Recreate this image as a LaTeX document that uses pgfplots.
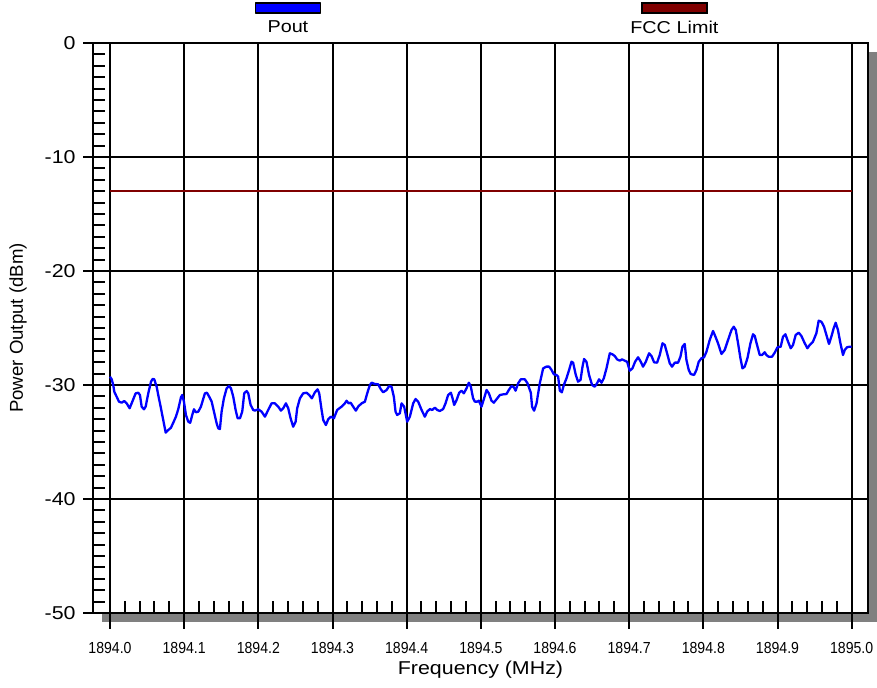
\documentclass[border=0pt]{standalone}
\usepackage{fontspec}
\usepackage{pgfplots}
\pgfplotsset{compat=1.18}
\setmainfont{Liberation Sans}
\newfontfamily\widesans[FakeStretch=1.15]{Liberation Sans}
\newfontfamily\narrowsans[FakeStretch=0.88]{Liberation Sans}
\definecolor{fccred}{HTML}{800000}
\definecolor{poutblue}{HTML}{0000FF}
\definecolor{shadowgray}{HTML}{808080}

\begin{document}
\begin{tikzpicture}
% drop shadow behind the plot frame
\fill[shadowgray] (4.5pt,-4.5pt) rectangle (392pt,280.5pt);
\begin{axis}[
  scale only axis,
  width=387.5pt, height=285pt,
  xmin=1893.9771, xmax=1895.022,
  ymin=-50, ymax=0,
  axis background/.style={fill=white},
  axis line style={black, line width=1pt},
  tick pos=left,
  tick align=inside,
  major tick length=-5pt,
  minor tick length=6pt,
  tick style={black, line width=1pt},
  xtick={1894.0,1894.1,1894.2,1894.3,1894.4,1894.5,1894.6,1894.7,1894.8,1894.9,1895.0},
  minor x tick num=4,
  extra x ticks={1894.0,1894.1,1894.2,1894.3,1894.4,1894.5,1894.6,1894.7,1894.8,1894.9,1895.0},
  extra x tick labels={},
  extra x tick style={major tick length=-8pt},
  scaled x ticks=false,
  xticklabel={\pgfmathprintnumber[fixed,fixed zerofill,precision=1,1000 sep={}]{\tick}},
  xticklabel style={font=\narrowsans\fontsize{8}{9}\selectfont, anchor=north, inner sep=0pt, yshift=-14.3pt},
  ytick={-50,-40,-30,-20,-10,0},
  minor y tick num=9,
  yticklabel style={font=\widesans\fontsize{9.3}{11}\selectfont, anchor=east, inner sep=0pt, xshift=-8.5pt},
  /pgf/number format/assume math mode=true,
  grid=major,
  major grid style={black, line width=1pt},
  every axis x label/.style={at={([yshift=-28.5pt]axis description cs:0.5,0)}, anchor=center},
  every axis y label/.style={at={([xshift=-37.5pt]axis description cs:0,0.5)}, anchor=center, rotate=90},
  xlabel={Frequency (MHz)},
  ylabel={Power Output (dBm)},
  xlabel style={font=\widesans\fontsize{9.3}{11}\selectfont},
  ylabel style={font=\fontsize{9.3}{11}\selectfont},
  legend columns=2,
  legend style={draw=none, fill=none, inner sep=0pt,
    at={(axis description cs:0.17355,1.02544)}, anchor=west,
    font=\widesans\fontsize{8.6}{10}\selectfont,
    cells={anchor=west},
    nodes={inner sep=0pt, text width=60pt, align=center},
    /tikz/every even column/.append style={column sep=133.25pt}},
]

\addplot[poutblue, line width=1.15pt, line join=round,
  legend image code/.code={\filldraw[overlay, fill=poutblue, draw=black, line width=0.6pt] (13.75pt,7.75pt) rectangle (46.25pt,12.75pt);}]
  coordinates {
(1894.0000,-29.27) (1894.0023,-29.50) (1894.0044,-30.00) (1894.0058,-30.59) (1894.0090,-31.03)
(1894.0121,-31.46) (1894.0158,-31.55) (1894.0193,-31.40) (1894.0225,-31.61) (1894.0265,-32.04)
(1894.0301,-31.46) (1894.0346,-30.73) (1894.0381,-30.68) (1894.0404,-30.88) (1894.0427,-31.90)
(1894.0458,-32.13) (1894.0481,-31.90) (1894.0516,-30.73) (1894.0553,-29.71) (1894.0575,-29.47)
(1894.0597,-29.50) (1894.0629,-30.15) (1894.0651,-30.88) (1894.0687,-32.04) (1894.0718,-33.07)
(1894.0751,-34.18) (1894.0786,-33.95) (1894.0822,-33.75) (1894.0853,-33.31) (1894.0889,-32.78)
(1894.0920,-32.13) (1894.0957,-31.08) (1894.0974,-30.88) (1894.0997,-31.46) (1894.1024,-32.63)
(1894.1055,-33.22) (1894.1082,-33.31) (1894.1109,-32.63) (1894.1132,-32.13) (1894.1159,-32.39)
(1894.1190,-32.34) (1894.1226,-31.90) (1894.1280,-30.73) (1894.1307,-30.68) (1894.1338,-31.03)
(1894.1371,-31.46) (1894.1402,-32.34) (1894.1438,-33.36) (1894.1460,-33.80) (1894.1482,-33.86)
(1894.1505,-32.34) (1894.1536,-31.17) (1894.1573,-30.29) (1894.1604,-30.09) (1894.1631,-30.29)
(1894.1662,-31.03) (1894.1694,-32.19) (1894.1721,-32.92) (1894.1752,-32.92) (1894.1783,-32.34)
(1894.1810,-30.73) (1894.1842,-30.53) (1894.1864,-30.73) (1894.1896,-31.75) (1894.1931,-32.19)
(1894.1954,-32.25) (1894.1999,-32.13) (1894.2044,-32.34) (1894.2089,-32.78) (1894.2133,-32.19)
(1894.2179,-31.61) (1894.2224,-31.61) (1894.2268,-31.90) (1894.2305,-32.25) (1894.2336,-32.04)
(1894.2372,-31.61) (1894.2403,-32.04) (1894.2435,-32.92) (1894.2470,-33.66) (1894.2503,-33.22)
(1894.2524,-32.04) (1894.2561,-31.17) (1894.2605,-30.73) (1894.2651,-30.68) (1894.2686,-30.88)
(1894.2722,-31.17) (1894.2763,-30.64) (1894.2799,-30.38) (1894.2821,-30.73) (1894.2853,-32.19)
(1894.2875,-33.07) (1894.2911,-33.51) (1894.2942,-33.01) (1894.2978,-32.78) (1894.3019,-32.92)
(1894.3063,-32.19) (1894.3123,-31.90) (1894.3167,-31.61) (1894.3190,-31.38) (1894.3217,-31.61)
(1894.3244,-31.55) (1894.3279,-31.90) (1894.3315,-32.25) (1894.3346,-31.90) (1894.3392,-31.61)
(1894.3437,-31.46) (1894.3468,-30.73) (1894.3504,-30.00) (1894.3527,-29.80) (1894.3571,-29.91)
(1894.3616,-29.94) (1894.3652,-30.38) (1894.3683,-30.64) (1894.3729,-30.44) (1894.3764,-30.09)
(1894.3796,-30.15) (1894.3827,-31.03) (1894.3850,-32.34) (1894.3872,-32.63) (1894.3908,-32.48)
(1894.3931,-31.61) (1894.3966,-31.90) (1894.4007,-33.22) (1894.4043,-32.78) (1894.4088,-31.61)
(1894.4120,-31.23) (1894.4155,-31.46) (1894.4201,-32.19) (1894.4245,-32.78) (1894.4276,-32.34)
(1894.4313,-32.11) (1894.4344,-32.19) (1894.4380,-31.99) (1894.4411,-32.19) (1894.4447,-32.28)
(1894.4492,-32.11) (1894.4524,-31.61) (1894.4559,-30.88) (1894.4596,-30.68) (1894.4619,-31.17)
(1894.4640,-31.75) (1894.4673,-31.32) (1894.4708,-30.68) (1894.4740,-30.50) (1894.4771,-30.73)
(1894.4807,-30.29) (1894.4838,-29.80) (1894.4865,-30.15) (1894.4896,-31.17) (1894.4919,-31.46)
(1894.4950,-31.46) (1894.4973,-31.38) (1894.5009,-31.90) (1894.5044,-31.17) (1894.5077,-30.44)
(1894.5108,-30.73) (1894.5144,-31.38) (1894.5175,-31.55) (1894.5212,-31.25) (1894.5256,-30.88)
(1894.5301,-30.82) (1894.5346,-30.79) (1894.5377,-30.44) (1894.5414,-30.09) (1894.5445,-30.20)
(1894.5468,-30.50) (1894.5503,-29.85) (1894.5539,-29.50) (1894.5593,-29.50) (1894.5629,-29.85)
(1894.5674,-30.68) (1894.5691,-31.90) (1894.5718,-32.25) (1894.5751,-31.61) (1894.5795,-29.85)
(1894.5840,-28.54) (1894.5885,-28.39) (1894.5921,-28.39) (1894.5953,-28.68) (1894.5984,-29.06)
(1894.6020,-29.12) (1894.6042,-29.27) (1894.6065,-30.50) (1894.6092,-30.64) (1894.6119,-30.00)
(1894.6155,-29.41) (1894.6190,-28.68) (1894.6222,-27.96) (1894.6244,-28.04) (1894.6280,-29.12)
(1894.6311,-29.71) (1894.6344,-29.56) (1894.6371,-28.39) (1894.6392,-27.72) (1894.6424,-27.96)
(1894.6459,-29.12) (1894.6500,-30.00) (1894.6536,-30.15) (1894.6567,-29.85) (1894.6594,-29.50)
(1894.6627,-29.80) (1894.6658,-29.41) (1894.6694,-28.54) (1894.6739,-27.22) (1894.6775,-27.31)
(1894.6806,-27.46) (1894.6837,-27.75) (1894.6873,-27.87) (1894.6904,-27.75) (1894.6941,-27.87)
(1894.6972,-27.96) (1894.7008,-28.75) (1894.7044,-28.54) (1894.7080,-27.96) (1894.7120,-27.57)
(1894.7156,-27.96) (1894.7187,-28.39) (1894.7224,-27.96) (1894.7268,-27.22) (1894.7301,-27.46)
(1894.7336,-28.01) (1894.7376,-28.04) (1894.7412,-27.37) (1894.7449,-26.34) (1894.7480,-26.49)
(1894.7511,-27.22) (1894.7547,-28.10) (1894.7578,-28.39) (1894.7615,-28.04) (1894.7659,-28.04)
(1894.7691,-27.52) (1894.7718,-26.64) (1894.7749,-26.40) (1894.7772,-27.81) (1894.7803,-28.68)
(1894.7830,-29.04) (1894.7875,-29.12) (1894.7907,-28.68) (1894.7938,-27.96) (1894.7974,-27.66)
(1894.8009,-27.57) (1894.8042,-27.08) (1894.8086,-26.05) (1894.8131,-25.26) (1894.8163,-25.76)
(1894.8198,-26.34) (1894.8244,-27.28) (1894.8288,-26.93) (1894.8333,-26.05) (1894.8379,-25.18)
(1894.8410,-24.89) (1894.8437,-25.18) (1894.8468,-26.34) (1894.8500,-27.66) (1894.8527,-28.54)
(1894.8558,-28.39) (1894.8594,-27.66) (1894.8635,-26.34) (1894.8670,-25.55) (1894.8693,-25.70)
(1894.8724,-26.49) (1894.8760,-27.37) (1894.8791,-27.37) (1894.8827,-27.13) (1894.8850,-27.37)
(1894.8881,-27.52) (1894.8926,-27.52) (1894.8962,-27.17) (1894.8999,-26.69) (1894.9043,-26.64)
(1894.9074,-25.76) (1894.9106,-25.55) (1894.9142,-26.20) (1894.9178,-26.78) (1894.9209,-26.49)
(1894.9245,-25.61) (1894.9286,-25.41) (1894.9322,-25.70) (1894.9367,-26.34) (1894.9403,-26.78)
(1894.9434,-26.49) (1894.9478,-26.20) (1894.9524,-25.46) (1894.9555,-24.36) (1894.9592,-24.45)
(1894.9627,-24.89) (1894.9659,-25.61) (1894.9694,-26.40) (1894.9726,-25.76) (1894.9757,-25.03)
(1894.9784,-24.54) (1894.9815,-25.18) (1894.9848,-26.34) (1894.9883,-27.37) (1894.9906,-26.93)
(1894.9937,-26.69) (1894.9973,-26.64) (1895.0000,-26.64)
};
\addlegendentry{Pout}

\addplot[fccred, line width=0.9pt,
  legend image code/.code={\filldraw[overlay, fill=fccred, draw=black, line width=0.6pt] (13.75pt,7.75pt) rectangle (46.25pt,12.75pt);}]
  coordinates {(1894.0,-13) (1895.0,-13)};
\addlegendentry{FCC Limit}
\end{axis}
\pgfresetboundingbox
\path[use as bounding box] (-46.5pt,-37.5pt) rectangle (392pt,306.5pt);
\end{tikzpicture}
\end{document}
